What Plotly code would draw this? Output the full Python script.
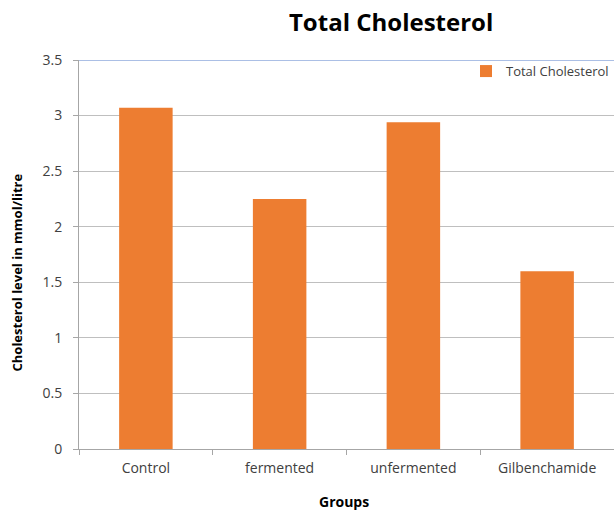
import plotly.graph_objects as go

# ── Data ─────────────────────────────────────────────────────────────────────
groups = ["Control", "fermented", "unfermented", "Gilbenchamide"]
total_cholesterol = [3.07, 2.25, 2.94, 1.60]
y_ticks = [0, 0.5, 1, 1.5, 2, 2.5, 3, 3.5]
y_tick_labels = ["0", "0.5", "1", "1.5", "2", "2.5", "3", "3.5"]

ORANGE = "#ED7D31"
FONT = "Open Sans"

fig = go.Figure()
fig.add_trace(go.Bar(
    x=groups, y=total_cholesterol, name="Total Cholesterol",
    marker=dict(color=ORANGE, line=dict(width=0)),
    showlegend=True,
))

fig.update_layout(
    width=614, height=510,
    margin=dict(l=79, r=0, t=60, b=61),
    paper_bgcolor="white", plot_bgcolor="white",
    font=dict(family=FONT, size=13, color="#404040"),
    bargap=0.6,
    title=dict(text="<b>Total Cholesterol</b>", x=0.637, xanchor="center",
               y=0.955, yanchor="middle",
               font=dict(family=FONT, size=24, color="#000000")),
    legend=dict(x=1.0, xanchor="right", y=1.01, yanchor="top",
                bgcolor="rgba(0,0,0,0)", font=dict(size=13, color="#404040"),
                itemwidth=30),
    xaxis=dict(showline=True, linecolor="#A6A6A6", linewidth=1,
               ticks="outside", tickson="boundaries", ticklen=5,
               tickcolor="#A6A6A6", showgrid=False, ticklabelstandoff=6,
               tickfont=dict(size=14, color="#404040")),
    yaxis=dict(range=[0, 3.5], tickvals=y_ticks, ticktext=y_tick_labels,
               showline=True, linecolor="#A6A6A6", linewidth=1,
               ticks="outside", ticklen=5, tickcolor="#A6A6A6",
               showgrid=True, gridcolor="#BFBFBF", gridwidth=1,
               ticklabelstandoff=8,
               zeroline=False, tickfont=dict(size=14, color="#404040")),
)

# top border line (blue) at 3.5
fig.add_shape(type="line", xref="paper", yref="y", x0=0, x1=1,
              y0=y_ticks[-1], y1=y_ticks[-1],
              line=dict(color="#8FAADC", width=1.5))

fig.add_annotation(text="<b>Cholesterol level in mmol/litre</b>",
                   xref="paper", yref="paper", x=-0.115, y=0.455,
                   xanchor="center", textangle=-90, showarrow=False,
                   font=dict(family=FONT, size=13, color="#000000"))
fig.add_annotation(text="<b>Groups</b>", xref="paper", yref="paper",
                   x=0.495, y=-0.135, yanchor="middle", showarrow=False,
                   font=dict(family=FONT, size=14, color="#000000"))

fig.write_html("out.html", config={"displayModeBar": False},
               post_script="document.body.style.margin='0';")
